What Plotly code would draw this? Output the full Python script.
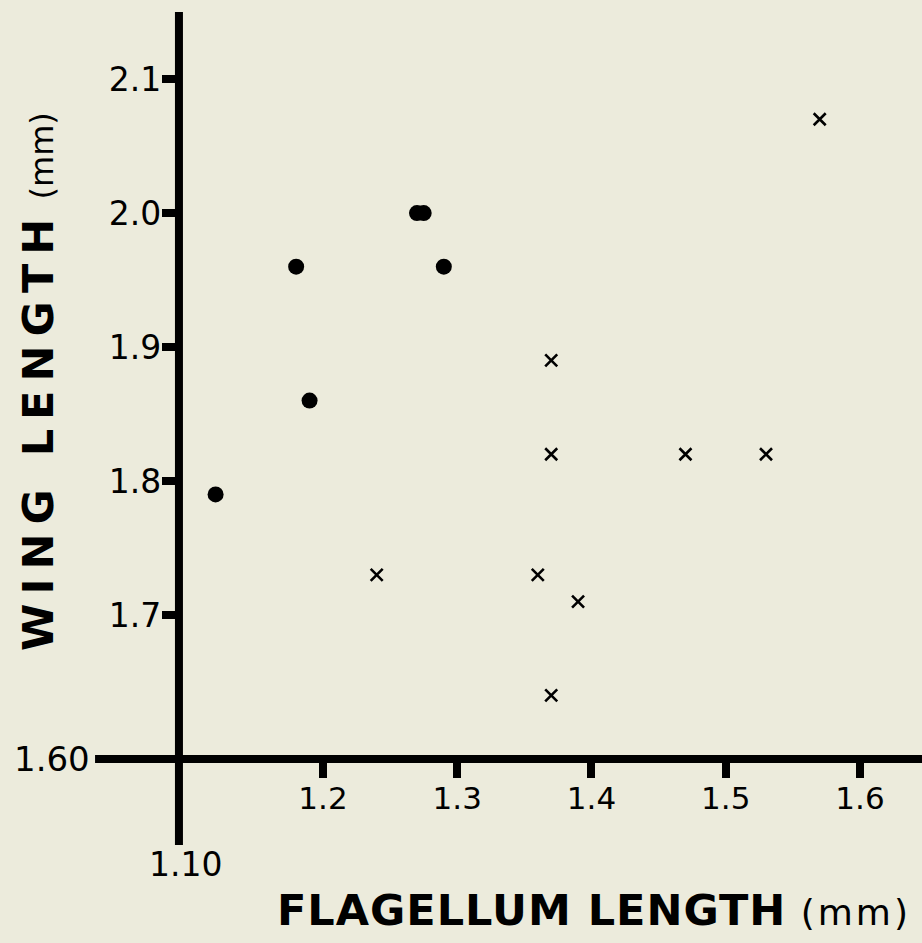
import plotly.graph_objects as go

# ---- data ----
dots_x = [1.12, 1.18, 1.19, 1.27, 1.275, 1.29]
dots_y = [1.79, 1.96, 1.86, 2.00, 2.00, 1.96]

cross_x = [1.24, 1.37, 1.37, 1.36, 1.39, 1.37, 1.47, 1.53, 1.57]
cross_y = [1.73, 1.89, 1.82, 1.73, 1.71, 1.64, 1.82, 1.82, 2.07]

x_ticks = [1.2, 1.3, 1.4, 1.5, 1.6]
x_tick_labels = ["1.2", "1.3", "1.4", "1.5", "1.6"]
y_ticks = [1.7, 1.8, 1.9, 2.0, 2.1]
y_tick_labels = ["1.7", "1.8", "1.9", "2.0", "2.1"]
x_origin_label = "1.10"
y_origin_label = "1.60"

# ---- layout constants ----
W, H = 922, 943
X_RANGE = [0.9594, 1.6462]
Y_RANGE = [1.4552, 2.1590]
AXIS_X = 1.0927      # where the vertical axis line stands
AXIS_Y = 1.5925      # where the horizontal axis line lies
XLINE_START = 1.0302
YLINE_BOTTOM = 1.5284
YLINE_TOP = 2.150
BG = "#ecebdc"
FONT = "DejaVu Sans"

def xpaper(v):
    return (v - X_RANGE[0]) / (X_RANGE[1] - X_RANGE[0])

def ypaper(v):
    return (v - Y_RANGE[0]) / (Y_RANGE[1] - Y_RANGE[0])

fig = go.Figure()
fig.add_trace(go.Scatter(
    x=dots_x, y=dots_y, mode="markers",
    marker=dict(symbol="circle", size=16, color="black", line=dict(width=0)),
    showlegend=False, cliponaxis=False, hoverinfo="skip"))
fig.add_trace(go.Scatter(
    x=cross_x, y=cross_y, mode="markers",
    marker=dict(symbol="x-thin", size=12, color="black", line=dict(width=2.6, color="black")),
    showlegend=False, cliponaxis=False, hoverinfo="skip"))

# axis lines
fig.add_shape(type="line", xref="x", yref="y", x0=XLINE_START, x1=X_RANGE[1] + 0.01,
              y0=AXIS_Y, y1=AXIS_Y, line=dict(color="black", width=8))
fig.add_shape(type="line", xref="x", yref="y", x0=AXIS_X, x1=AXIS_X,
              y0=YLINE_BOTTOM, y1=YLINE_TOP, line=dict(color="black", width=8))

fig.update_layout(
    width=W, height=H, autosize=False,
    margin=dict(l=0, r=0, t=0, b=0, pad=0),
    paper_bgcolor=BG, plot_bgcolor=BG,
    font=dict(family=FONT, color="black"),
    xaxis=dict(range=X_RANGE, domain=[0, 1], anchor="free", position=ypaper(AXIS_Y),
               showgrid=False, zeroline=False, showline=False,
               ticks="outside", ticklen=18, tickwidth=8, tickcolor="black",
               ticklabelstandoff=-6,
               tickvals=x_ticks, ticktext=x_tick_labels,
               tickfont=dict(family=FONT, size=31, color="black")),
    yaxis=dict(range=Y_RANGE, domain=[0, 1], anchor="free", position=xpaper(AXIS_X),
               side="left",
               showgrid=False, zeroline=False, showline=False,
               ticks="outside", ticklen=17, tickwidth=8, tickcolor="black",
               ticklabelstandoff=-6,
               tickvals=y_ticks, ticktext=y_tick_labels,
               tickfont=dict(family=FONT, size=33, color="black")),
    annotations=[
        dict(text=y_origin_label, xref="x", yref="y", x=XLINE_START, y=AXIS_Y,
             xanchor="right", yanchor="middle", xshift=-3, showarrow=False,
             font=dict(family=FONT, size=34, color="black")),
        dict(text=x_origin_label, xref="x", yref="y", x=AXIS_X, y=YLINE_BOTTOM,
             xanchor="center", yanchor="top", xshift=7, yshift=2, showarrow=False,
             font=dict(family=FONT, size=33, color="black")),
        dict(text="<span style='letter-spacing:9px'><b>WING LENGTH</b></span>"
                  "<span style='font-size:32px'> (mm)</span>",
             xref="paper", yref="paper", x=38 / W, y=1 - 382 / H,
             xanchor="center", yanchor="middle", textangle=-90, showarrow=False,
             font=dict(family=FONT, size=43, color="black")),
        dict(text="<span style='letter-spacing:1px'><b>FLAGELLUM LENGTH</b></span>"
                  "<span style='font-size:36px;letter-spacing:3px'> (mm)</span>",
             xref="paper", yref="paper", x=594 / W, y=1 - 910 / H,
             xanchor="center", yanchor="middle", showarrow=False,
             font=dict(family=FONT, size=43, color="black")),
    ],
)

fig.write_html(
    "out.html",
    config={"displayModeBar": False},
    post_script="document.body.style.margin='0';"
                "document.body.style.background='" + BG + "';",
)
